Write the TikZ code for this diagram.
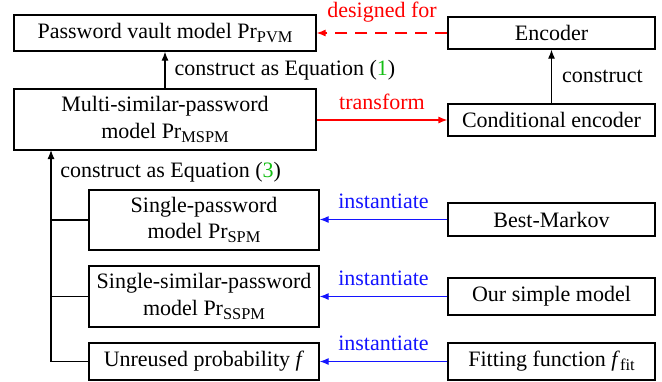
\documentclass[tikz,border=0pt]{standalone}
\usepackage{fontspec}
\setmainfont{Liberation Serif}
\usetikzlibrary{arrows.meta}
\definecolor{eqgreen}{RGB}{20,190,20}
\definecolor{lineblue}{RGB}{20,20,255}
\newcommand{\mysub}[1]{\raisebox{-0.4ex}{\fontsize{8.2}{8.2}\selectfont #1}}
\tikzset{
  box/.style={draw, line width=0.6pt, inner sep=0pt, align=center, minimum width=#1},
  conn/.style={line width=0.6pt, -{Latex[length=4.5pt,width=3.5pt]}},
  lbl/.style={inner sep=0pt}
}
\begin{document}
\begin{tikzpicture}[x=0.5pt,y=-0.5pt,font=\fontsize{11}{13.3}\selectfont]
\useasboundingbox (0,0) rectangle (662,381);
\node[box=151pt, minimum height=18pt] (pvm) at (165,33) {Password vault model Pr\mysub{PVM}};
\node[box=103.5pt, minimum height=16pt] (enc) at (551.5,33) {Encoder};
\node[box=151pt, minimum height=30.5pt] (mspm) at (165,119.5) {Multi-similar-password\\model Pr\mysub{MSPM}};
\node[box=103.5pt, minimum height=16pt] (cenc) at (551.5,120) {Conditional encoder};
\node[box=115pt, minimum height=30pt] (spm) at (204,220) {Single-password\\model Pr\mysub{SPM}};
\node[box=115pt, minimum height=30.5pt] (sspm) at (204,296.5) {Single-similar-password\\model Pr\mysub{SSPM}};
\node[box=115pt, minimum height=18.5pt] (unr) at (204,361.5) {Unreused probability \textit{f}};
\node[box=103.5pt, minimum height=16.5pt] (bm) at (551.5,219.5) {Best-Markov};
\node[box=103.5pt, minimum height=18.5pt] (osm) at (551.5,296.5) {Our simple model};
\node[box=103.5pt, minimum height=18.5pt] (ff) at (551.5,361.5) {Fitting function \textit{f}\mysub{fit}};

% vertical spine
\coordinate (st) at (51,150);
\draw[conn] (unr.west) -| (st);
\draw[line width=0.6pt] (spm.west) -- (spm.west -| st);
\draw[line width=0.6pt] (sspm.west) -- (sspm.west -| st);
\node[lbl, anchor=west] (l3) at (60,172) {construct as Equation (\textcolor{eqgreen}{3})};

% MSPM -> PVM
\draw[conn] (mspm.north) -- (pvm.south) node[midway, right=4.5pt, lbl] (l1) {construct as Equation (\textcolor{eqgreen}{1})};

% Cond encoder -> Encoder
\draw[conn] (cenc.north) -- (enc.south) node[midway, right=5pt, lbl] (lc) {construct};

% Encoder -> PVM dashed red
\draw[conn, red, dash pattern=on 6pt off 4pt] (enc.west) -- (pvm.east) node[midway, above=5pt, lbl] (ld) {designed for};

% MSPM -> Cond encoder
\draw[conn, red] (mspm.east |- cenc.west) -- (cenc.west) node[midway, above=5pt, lbl] (lt) {transform};

% instantiate arrows
\draw[conn, lineblue] (bm.west) -- (bm.west -| spm.east) node[midway, above=5pt, lbl] (li1) {instantiate};
\draw[conn, lineblue] (osm.west) -- (sspm.east) node[midway, above=5pt, lbl] (li2) {instantiate};
\draw[conn, lineblue] (ff.west) -- (unr.east) node[midway, above=5pt, lbl] (li3) {instantiate};
\end{tikzpicture}
\end{document}
